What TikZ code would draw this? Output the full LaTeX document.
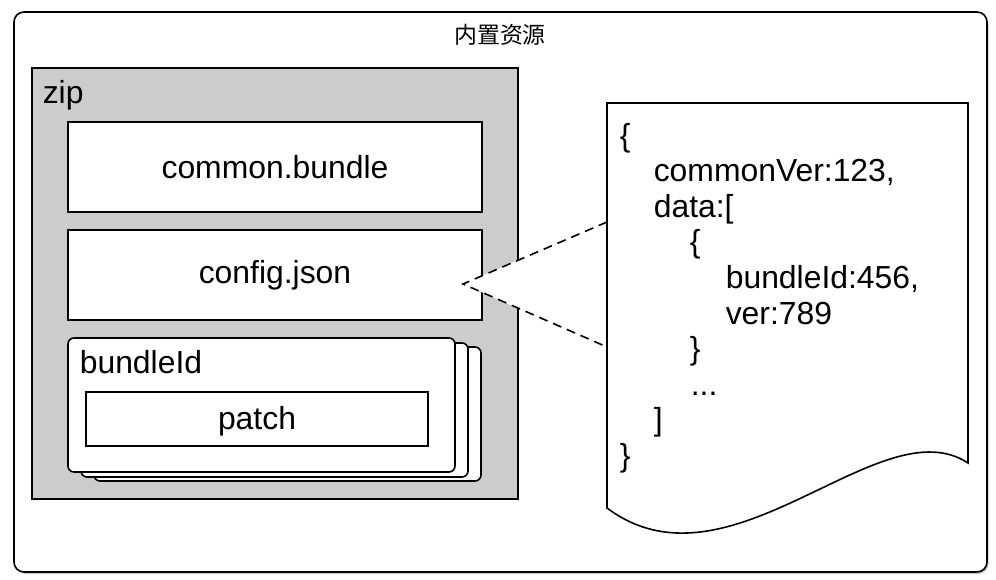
\documentclass[tikz,border=0pt]{standalone}
\usepackage{fontspec}
\setmainfont{Liberation Sans}
\newfontfamily\cjk{Noto Sans CJK SC}
\usetikzlibrary{shadows}
\definecolor{zipgray}{HTML}{CCCCCC}
\begin{document}
\begin{tikzpicture}[x=1bp,y=-1bp,line width=1.6bp,
  txt/.style={font=\fontsize{32}{36}\selectfont, inner sep=0pt},
  jtxt/.style={txt, anchor=base west},
  boxw/.style={draw, fill=white, inner sep=0pt},
  stackbox/.style={draw, fill=white, rounded corners=6bp, minimum width=387bp, minimum height=134bp, inner sep=0pt},
  callout/.style={dash pattern=on 9bp off 6bp}]
\useasboundingbox (0,0) rectangle (996,580);
% outer frame
\node[draw, fill=white, rounded corners=10bp, minimum width=973bp, minimum height=560bp, inner sep=0pt,
  drop shadow={shadow xshift=1.5bp, shadow yshift=-2bp, opacity=.35, fill=black!60}] (outer) at (500.5,292) {};
\node[font=\cjk\fontsize{23}{27}\selectfont, inner sep=0pt] (title) at (500,35) {内置资源};
% zip
\node[draw, fill=zipgray, minimum width=486bp, minimum height=431bp, inner sep=0pt] (zip) at (275,283.5) {};
\node[txt, anchor=west] (ziplabel) at (42,95) {zip};
\node[boxw, minimum width=414bp, minimum height=90bp] (common) at (275,167) {};
\node[txt] (commontxt) at (common.center) {common.bundle};
\node[boxw, minimum width=414bp, minimum height=90bp] (config) at (275,275) {};
\node[txt] (configtxt) at (config.center) {config.json};
% bundle stack
\node[stackbox] (b3) at (287.5,414) {};
\node[stackbox] (b2) at (274.5,410) {};
\node[stackbox] (b1) at (261.5,405) {};
\node[txt, anchor=west] (bundletxt) at (79,362) {bundleId};
\node[boxw, minimum width=342bp, minimum height=54bp] (patch) at (257,419) {};
\node[txt] (patchtxt) at ([yshift=-2bp]patch.center) {patch};
% document
\coordinate (dtl) at (607,103);
\coordinate (dtr) at (968,103);
\coordinate (dbr) at (968,463);
\coordinate (dbl) at (607,508);
\coordinate (ct) at (607,222);
\coordinate (cb) at (607,347);
\coordinate (apex) at (463,284);
\fill[white] (apex) -- (ct) -- (cb) -- cycle;
\draw[callout] (ct) -- (apex) -- (cb);
\draw[fill=white] (dbl) -- (dtl) -- (dtr) -- (dbr)
  .. controls (880,405) and (730,600) .. (dbl) -- cycle;
% json text
\node[jtxt] (j1) at (619,146.5) {\{};
\node[jtxt] (j2) at (653,182) {commonVer:123,};
\node[jtxt] (j3) at (653,217.5) {data:[};
\node[jtxt] (j4) at (689,253) {\{};
\node[jtxt] (j5) at (725,288.5) {bundleId:456,};
\node[jtxt] (j6) at (725,324) {ver:789};
\node[jtxt] (j7) at (689,359.5) {\}};
\node[jtxt] (j8) at (690,395) {...};
\node[jtxt] (j9) at (653,430.5) {]};
\node[jtxt] (j10) at (619,466) {\}};
\end{tikzpicture}
\end{document}
